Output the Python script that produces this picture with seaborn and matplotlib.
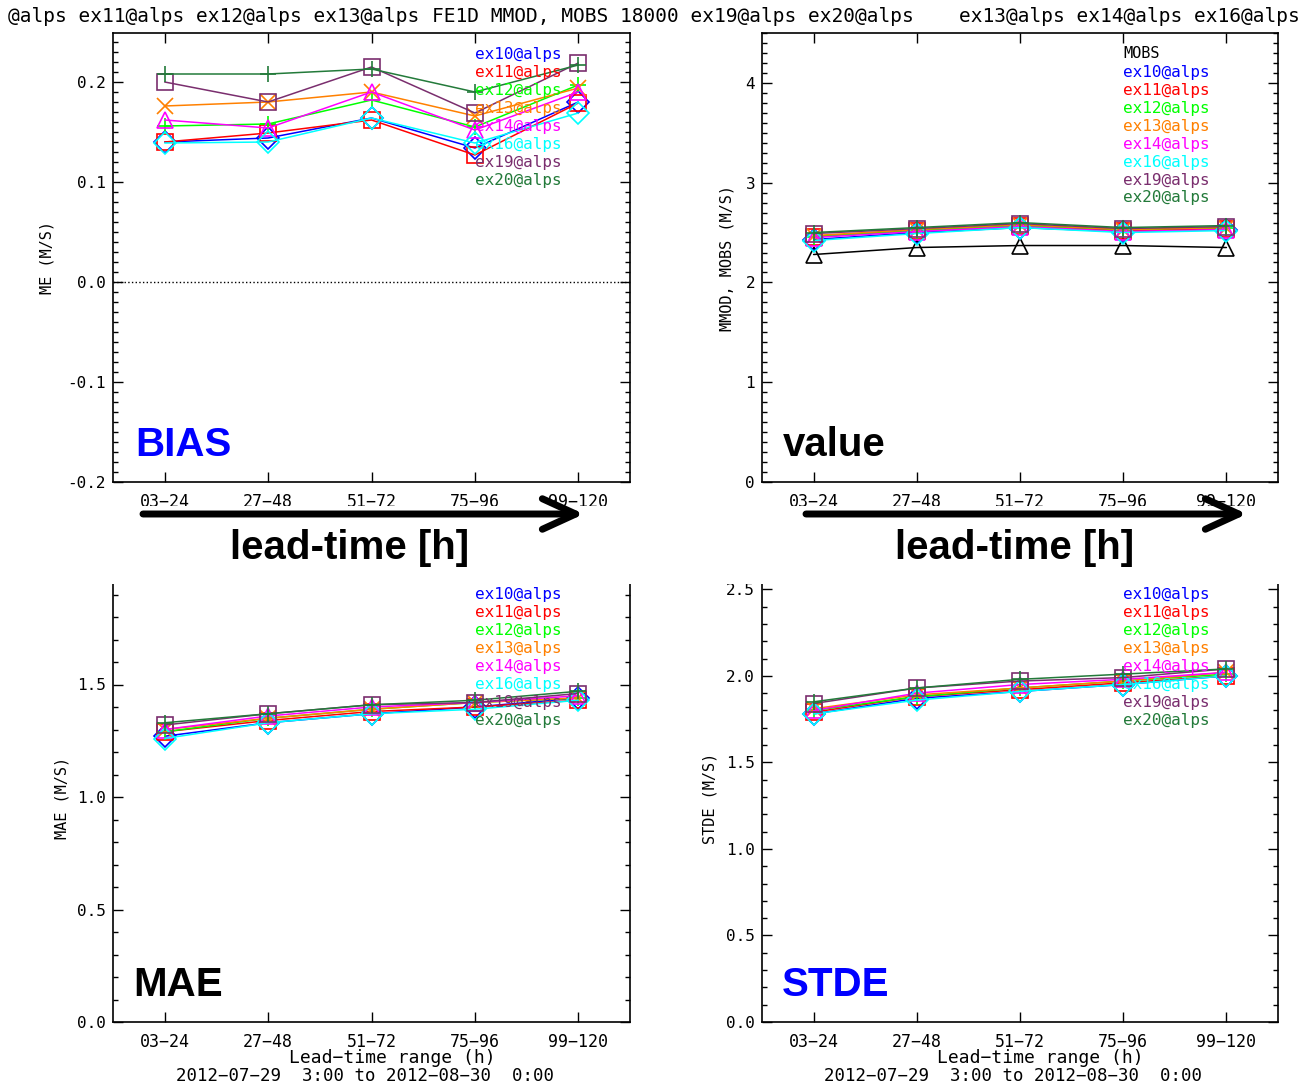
import numpy as np
import pandas as pd
import matplotlib
matplotlib.use("Agg")
import matplotlib.pyplot as plt
import seaborn as sns
from matplotlib.patches import Rectangle, FancyArrowPatch, ArrowStyle
from matplotlib.ticker import MultipleLocator, FormatStrFormatter

# ---------------- data ----------------
categories = ["03−24", "27−48", "51−72", "75−96", "99−120"]
experiments = ["ex10@alps", "ex11@alps", "ex12@alps", "ex13@alps",
               "ex14@alps", "ex16@alps", "ex19@alps", "ex20@alps"]
colors = ["#0000ff", "#ff0000", "#00ff00", "#ff8000",
          "#ff00ff", "#00ffff", "#7a2e6e", "#237a3a"]
markers = ["D", "s", "+", "x", "^", "D", "s", "+"]

bias_values = [
    [0.140, 0.144, 0.164, 0.134, 0.180],   # ex10
    [0.140, 0.149, 0.162, 0.127, 0.179],   # ex11
    [0.156, 0.158, 0.182, 0.155, 0.197],   # ex12
    [0.176, 0.180, 0.190, 0.166, 0.194],   # ex13
    [0.162, 0.154, 0.190, 0.152, 0.190],   # ex14
    [0.139, 0.140, 0.164, 0.139, 0.169],   # ex16
    [0.200, 0.180, 0.215, 0.169, 0.219],   # ex19
    [0.208, 0.208, 0.213, 0.190, 0.217],   # ex20
]
mobs_values = [2.28, 2.35, 2.37, 2.37, 2.35]
mmod_values = [
    [2.43, 2.50, 2.55, 2.51, 2.53],
    [2.46, 2.52, 2.57, 2.52, 2.54],
    [2.46, 2.52, 2.57, 2.53, 2.55],
    [2.47, 2.53, 2.58, 2.53, 2.55],
    [2.45, 2.51, 2.56, 2.51, 2.53],
    [2.42, 2.49, 2.55, 2.50, 2.52],
    [2.49, 2.54, 2.59, 2.54, 2.56],
    [2.50, 2.55, 2.60, 2.55, 2.57],
]
mae_values = [
    [1.27, 1.33, 1.37, 1.40, 1.44],
    [1.29, 1.34, 1.38, 1.40, 1.43],
    [1.29, 1.35, 1.39, 1.42, 1.44],
    [1.30, 1.35, 1.39, 1.42, 1.44],
    [1.30, 1.36, 1.40, 1.42, 1.45],
    [1.26, 1.33, 1.37, 1.39, 1.43],
    [1.32, 1.37, 1.41, 1.42, 1.46],
    [1.33, 1.37, 1.41, 1.43, 1.47],
]
stde_values = [
    [1.78, 1.87, 1.91, 1.95, 2.00],
    [1.79, 1.88, 1.92, 1.96, 2.00],
    [1.80, 1.88, 1.93, 1.97, 2.01],
    [1.81, 1.89, 1.93, 1.97, 2.02],
    [1.80, 1.90, 1.95, 1.98, 2.02],
    [1.78, 1.86, 1.91, 1.95, 2.00],
    [1.84, 1.93, 1.97, 1.99, 2.04],
    [1.85, 1.93, 1.98, 2.01, 2.04],
]

# ---------------- style ----------------
sns.set_style("ticks")
MONO = ["DejaVu Sans Mono", "DejaVu Sans"]
BOLD = ["Liberation Sans", "DejaVu Sans"]
plt.rcParams["font.family"] = MONO
plt.rcParams["axes.unicode_minus"] = True
for key in ("text.color", "axes.labelcolor", "xtick.color", "ytick.color",
            "axes.edgecolor"):
    plt.rcParams[key] = "black"

W, H = 1302, 1087
fig = plt.figure(figsize=(W / 100, H / 100), dpi=100)


def px_axes(l, t, r, b):
    return fig.add_axes([l / W, 1 - b / H, (r - l) / W, (b - t) / H])


def fx(x):
    return x / W


def fy(y):
    return 1 - y / H


def series_df(vals):
    return pd.DataFrame({"lead": np.arange(len(categories)), "value": vals})


def draw_series(ax, vals, color, marker):
    sns.lineplot(data=series_df(vals), x="lead", y="value", ax=ax,
                 color=color, marker=marker, markersize=11.5,
                 markerfacecolor="none", markeredgecolor=color,
                 markeredgewidth=1.2, lw=1.1, legend=False)


def style_axes(ax, ylim, major, minor, fmt):
    ax.set_xlim(-0.5, len(categories) - 0.5)
    ax.set_ylim(*ylim)
    ax.set_xticks(np.arange(len(categories)))
    ax.set_xticklabels(categories)
    ax.yaxis.set_major_locator(MultipleLocator(major))
    ax.yaxis.set_minor_locator(MultipleLocator(minor))
    ax.yaxis.set_major_formatter(FormatStrFormatter(fmt))
    ax.tick_params(axis="x", which="major", direction="in", length=7,
                   width=1.0, top=True, bottom=True, labelsize=12, pad=8,
                   colors="black")
    ax.tick_params(axis="y", which="major", direction="in", length=7,
                   width=1.0, left=True, right=True, labelsize=11.5, pad=5,
                   colors="black")
    ax.tick_params(axis="y", which="minor", direction="in", length=3.6,
                   width=1.0, left=True, right=True, colors="black")
    ax.tick_params(axis="x", which="minor", bottom=False, top=False)
    for s in ax.spines.values():
        s.set_visible(True)
        s.set_linewidth(1.2)
        s.set_color("black")
    ax.set_xlabel("")
    ax.set_ylabel("")
    ax.grid(False)


def legend_text(x, y0, with_mobs=False):
    y = y0
    if with_mobs:
        fig.text(fx(x), fy(y), "MOBS", color="black", fontsize=11,
                 va="center", ha="left")
        y += 18
    for e, c in zip(experiments, colors):
        fig.text(fx(x), fy(y), e, color=c, fontsize=11.5,
                 va="center", ha="left", zorder=10)
        y += 18


# ---- top-left : BIAS ----
ax1 = px_axes(113, 33, 630, 482)
for vals, c, m in zip(bias_values, colors, markers):
    draw_series(ax1, vals, c, m)
ax1.axhline(0, ls=":", color="black", lw=1.0)
style_axes(ax1, (-0.2, 0.249), 0.1, 0.01, "%.1f")
legend_text(475, 55)

# ---- top-right : value ----
ax2 = px_axes(762, 33, 1278, 482)
draw_series(ax2, mobs_values, "black", "^")
for vals, c, m in zip(mmod_values, colors, markers):
    draw_series(ax2, vals, c, m)
style_axes(ax2, (0, 4.5), 1, 0.1, "%d")
legend_text(1123, 54, with_mobs=True)

# ---- bottom-left : MAE ----
ax3 = px_axes(113, 572, 630, 1022)
for vals, c, m in zip(mae_values, colors, markers):
    draw_series(ax3, vals, c, m)
style_axes(ax3, (0, 2.0), 0.5, 0.1, "%.1f")
legend_text(475, 595)

# ---- bottom-right : STDE ----
ax4 = px_axes(762, 572, 1278, 1022)
for vals, c, m in zip(stde_values, colors, markers):
    draw_series(ax4, vals, c, m)
style_axes(ax4, (0, 2.6), 0.5, 0.1, "%.1f")
legend_text(1123, 595)

for ax in (ax1, ax2, ax3, ax4):
    for ln in ax.lines:
        ln.set_markerfacecolor("none")
        ln.set_markeredgecolor(ln.get_color())

# y axis labels
fig.text(fx(47), fy(258), "ME (M/S)", rotation=90, fontsize=11, ha="center", va="center")
fig.text(fx(727), fy(258), "MMOD, MOBS (M/S)", rotation=90, fontsize=11, ha="center", va="center")
fig.text(fx(62), fy(798), "MAE (M/S)", rotation=90, fontsize=11, ha="center", va="center")
fig.text(fx(710), fy(798), "STDE (M/S)", rotation=90, fontsize=11, ha="center", va="center")

# bottom x titles
for dx in (0, 648):
    fig.text(fx(392 + dx), fy(1058), "Lead−time range (h)", fontsize=13,
             ha="center", va="center")
    fig.text(fx(365 + dx), fy(1076), "2012−07−29  3:00 to 2012−08−30  0:00",
             fontsize=12.5, ha="center", va="center")

# header (cropped titles of the original panels)
fig.text(fx(8), fy(17), "@alps ex11@alps ex12@alps ex13@alps",
         fontsize=14, ha="left", va="center")
fig.text(fx(432), fy(17), "FE1D MMOD, MOBS 18000 ex19@alps ex20@alps",
         fontsize=14, ha="left", va="center")
fig.text(fx(1300), fy(17), "ex13@alps ex14@alps ex16@alps",
         fontsize=14, ha="right", va="center")

# white band covering the top of the lower panels
fig.patches.append(Rectangle((0, fy(584)), 1, (584 - 506) / H, transform=fig.transFigure,
                             facecolor="white", edgecolor="none", zorder=5))

# arrows and big labels
for x0, x1 in ((143, 584), (806, 1247)):
    arr = FancyArrowPatch((fx(x0), fy(514)), (fx(x1), fy(514)), transform=fig.transFigure,
                          arrowstyle=ArrowStyle("->", head_length=24, head_width=11),
                          mutation_scale=1, lw=5, color="black", shrinkA=0, shrinkB=0,
                          capstyle="round", joinstyle="round", zorder=6)
    fig.patches.append(arr)

big = dict(fontsize=29, fontweight="bold", family=BOLD, ha="left", va="center", zorder=7)
fig.text(fx(230), fy(548), "lead-time [h]", color="black", **big)
fig.text(fx(895), fy(548), "lead-time [h]", color="black", **big)
fig.text(fx(135), fy(445), "BIAS", color="#0000ff", **big)
fig.text(fx(783), fy(445), "value", color="black", **big)
fig.text(fx(133), fy(985), "MAE", color="black", **big)
fig.text(fx(782), fy(985), "STDE", color="#0000ff", **big)

fig.savefig("out.png", dpi=100, facecolor="white")
